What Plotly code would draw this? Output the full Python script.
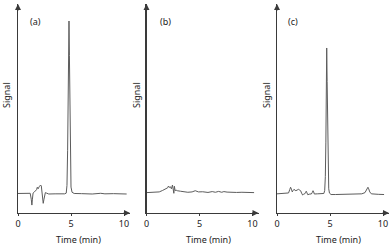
import plotly.graph_objects as go

# ---------------- data ----------------
panel_labels = ["(a)", "(b)", "(c)"]
x_title = "Time (min)"
y_title = "Signal"
x_ticks = [0, 5, 10]

a_time = [0.0, 0.5, 1.0, 1.15, 1.25, 1.31, 1.36, 1.42, 1.55, 1.63, 1.75, 1.82, 1.9, 2.0,
          2.13, 2.2, 2.26, 2.32, 2.38, 2.45, 2.58, 2.7, 2.9, 3.5, 4.0, 4.4, 4.55, 4.62,
          4.68, 4.73, 4.77, 4.81, 4.85, 4.89, 4.94, 5.0, 5.1, 5.3, 6.0, 7.0, 7.8, 8.2,
          9.0, 10.25]
a_signal = [0.3, 0.2, 0.5, 0.4, -3.0, -6.4, -3.0, 0.5, 1.2, 1.7, 2.5, 3.9, 3.0, 4.2,
            5.2, 4.6, 1.0, -3.5, -5.4, -3.0, 0.8, 0.5, 0.0, 0.1, 0.0, 0.1, 0.5, 5.0,
            25.0, 60.0, 90.0, 100.0, 80.0, 45.0, 15.0, 4.0, 1.0, 0.3, 0.2, 0.0, 0.4, 0.1,
            0.2, 0.0]

b_time = [0.0, 0.5, 1.0, 1.2, 1.5, 1.8, 2.0, 2.07, 2.15, 2.25, 2.35, 2.45, 2.52, 2.58,
          2.63, 2.7, 2.8, 2.9, 3.2, 3.6, 3.9, 4.3, 4.6, 4.9, 5.3, 5.8, 6.2, 6.5, 6.8,
          7.1, 7.3, 7.6, 8.0, 8.5, 9.0, 9.5, 10.15]
b_signal = [0.8, 0.8, 0.9, 1.2, 2.0, 2.9, 3.6, 4.6, 3.8, 4.2, 3.0, 5.2, 1.5, 0.4,
            4.5, 2.0, 2.2, 1.9, 1.6, 1.3, 1.0, 1.2, 1.9, 1.2, 1.3, 0.9, 1.4, 1.0, 1.5,
            1.0, 1.4, 1.1, 1.2, 0.9, 1.0, 0.8, 0.8]

c_time = [0.0, 0.5, 1.0, 1.09, 1.2, 1.28, 1.36, 1.44, 1.52, 1.6, 1.7, 1.78, 1.9, 2.04,
          2.15, 2.23, 2.32, 2.42, 2.5, 2.6, 2.7, 2.76, 2.83, 2.9, 3.1, 3.24, 3.32, 3.4,
          3.46, 3.52, 3.8, 4.2, 4.42, 4.5, 4.56, 4.61, 4.65, 4.69, 4.73, 4.77, 4.82,
          4.88, 4.95, 5.1, 5.5, 6.0, 6.5, 7.0, 7.5, 8.0, 8.3, 8.45, 8.53, 8.58, 8.65,
          8.75, 8.9, 9.2, 9.6, 10.1]
c_signal = [0.1, 0.2, 0.3, 0.6, 2.5, 3.9, 2.8, 1.2, 2.0, 2.7, 2.2, 1.9, 2.3, 2.7,
            2.2, 1.9, 0.5, -0.6, -0.2, 0.0, 1.0, 1.6, 0.6, -0.4, 0.0, 0.0, 0.8, 1.9,
            1.2, 0.0, 0.1, 0.0, 0.3, 2.0, 10.0, 30.0, 60.0, 84.4, 65.0, 35.0, 12.0,
            3.0, 0.5, -0.3, -0.3, -0.2, -0.2, -0.3, -0.2, 0.1, 0.8, 2.2, 3.4, 3.9, 3.0,
            1.2, 0.1, -0.2, -0.2, -0.3]

series = [(a_time, a_signal), (b_time, b_signal), (c_time, c_signal)]

# ---------------- layout ----------------
W, H = 392, 245
axis_left_px = [18, 146.5, 277]
axis_len_px = 112
px_per_min = 10.6
y_bottom_px, y_top_px = 213, 4
baseline_px = 194
px_per_unit = 1.73

font_family = "Noto Sans, Open Sans, sans-serif"
axis_color = "#3a3a3a"
line_color = "#5c5c5c"
text_color = "#222222"

fig = go.Figure()
annotations = []
layout_axes = {}
ydom = [(H - y_bottom_px) / H, (H - y_top_px) / H]
ymin = -(y_bottom_px - baseline_px) / px_per_unit
ymax = (baseline_px - y_top_px) / px_per_unit

for i, (t, s) in enumerate(series):
    n = "" if i == 0 else str(i + 1)
    fig.add_trace(go.Scatter(x=t, y=s, mode="lines", xaxis="x" + n, yaxis="y" + n,
                             line=dict(color=line_color, width=1), showlegend=False,
                             hoverinfo="skip"))
    left = axis_left_px[i]
    layout_axes["xaxis" + n] = dict(
        domain=[left / W, (left + axis_len_px) / W], anchor="y" + n,
        range=[0, axis_len_px / px_per_min], showgrid=False, zeroline=False,
        showline=True, linecolor=axis_color, linewidth=1.2, automargin=False,
        tickvals=x_ticks, ticks="outside", ticklen=2, tickcolor=axis_color,
        tickfont=dict(family=font_family, size=9, color=text_color))
    layout_axes["yaxis" + n] = dict(
        domain=ydom, anchor="x" + n, range=[ymin, ymax], showgrid=False,
        zeroline=False, showline=True, linecolor=axis_color, linewidth=1.2,
        showticklabels=False, ticks="", automargin=False)
    # arrowheads
    annotations.append(dict(xref="x" + n, yref="y" + n + " domain", x=0, y=1,
                            ax=0, ay=8, text="", showarrow=True, arrowhead=2,
                            arrowsize=1, arrowwidth=1.2, arrowcolor=axis_color))
    annotations.append(dict(xref="x" + n + " domain", yref="y" + n + " domain", x=1, y=0,
                            ax=-8, ay=0, text="", showarrow=True, arrowhead=2,
                            arrowsize=1, arrowwidth=1.2, arrowcolor=axis_color))

label_pos = [(35, 22), (165, 21), (293, 22)]
signal_pos = [(6, 95), (136, 95), (266, 95)]
time_pos = [(78, 239), (208, 239), (338, 239)]
for i in range(3):
    lx, ly = label_pos[i]
    annotations.append(dict(xref="paper", yref="paper", x=lx / W, y=1 - ly / H,
                            text=panel_labels[i], showarrow=False,
                            xanchor="center", yanchor="middle",
                            font=dict(family=font_family, size=9, color=text_color)))
    sx, sy = signal_pos[i]
    annotations.append(dict(xref="paper", yref="paper", x=sx / W, y=1 - sy / H,
                            text=y_title, showarrow=False, textangle=-90,
                            xanchor="center", yanchor="middle",
                            font=dict(family=font_family, size=9, color=text_color)))
    tx, ty = time_pos[i]
    annotations.append(dict(xref="paper", yref="paper", x=tx / W, y=1 - ty / H,
                            text=x_title, showarrow=False,
                            xanchor="center", yanchor="middle",
                            font=dict(family=font_family, size=9, color=text_color)))

fig.update_layout(width=W, height=H, margin=dict(l=0, r=0, t=0, b=0, autoexpand=False),
                  paper_bgcolor="white", plot_bgcolor="white",
                  annotations=annotations, **layout_axes)

fig.write_html("out.html",
               config={"displayModeBar": False, "staticPlot": True},
               post_script="document.body.style.margin='0';"
                           "document.body.style.overflow='hidden';")
